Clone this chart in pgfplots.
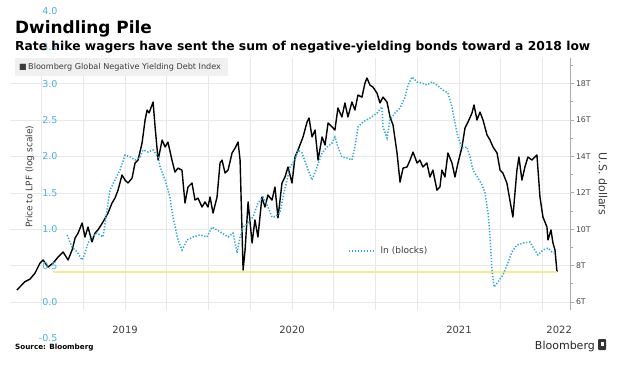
\documentclass[border=0pt]{standalone}
\usepackage{fontspec}
\setmainfont{DejaVu Sans}
\usepackage{pgfplots}
\pgfplotsset{compat=1.18}
\definecolor{cyanline}{RGB}{40,170,215}
\definecolor{cyantick}{RGB}{70,180,220}
\definecolor{yellowline}{RGB}{245,236,140}
\definecolor{gridc}{RGB}{232,232,232}
\definecolor{txt}{RGB}{60,60,60}
\begin{document}
\begin{tikzpicture}[x=1pt,y=1pt]
\path[use as bounding box] (0,0) rectangle (623,365);
% right axis (US dollars) with grid and black index line
\begin{axis}[
  at={(10pt,55pt)}, anchor=south west, scale only axis,
  width=560pt, height=252pt,
  xmin=2018.311, xmax=2021.665, ymin=5.56, ymax=19.41,
  axis y line*=right, axis x line*=bottom,
  x axis line style={draw=none},
  y axis line style={draw=gray!65, line width=0.8pt},
  every outer y axis line/.append style={-},
  every outer x axis line/.append style={-},
  xtick={2019,2020,2021,2021.6}, xticklabels={2019,2020,2021,2022},
  minor xtick={2018.5,2018.75,2019,2019.25,2019.5,2019.75,2020,2020.25,2020.5,2020.75,2021,2021.25,2021.5},
  xminorgrids=true, xmajorgrids=false,
  major x tick style={draw=none}, minor x tick style={draw=none},
  ytick={6,8,10,12,14,16,18}, yticklabels={6T,8T,10T,12T,14T,16T,18T},
  minor ytick={7,9,11,13,15,17,19},
  ymajorgrids=true,
  tick align=outside, major tick length=3.5pt, minor tick length=2.5pt,
  y tick style={draw=gray!65, line width=0.8pt},
  grid style={gridc, line width=0.6pt},
  minor grid style={gridc, line width=0.6pt},
  /pgf/number format/assume math mode=true,
  xticklabel style={font=\fontsize{10}{12}\selectfont, text=txt, yshift=-9pt},
  yticklabel style={font=\fontsize{7.8}{9}\selectfont, text=gray!55!black, xshift=-1pt},
  ylabel={U.S. dollars},
  ylabel style={font=\fontsize{11}{13}\selectfont, text=txt, rotate=180, at={(axis description cs:1.0589,0.5)}, anchor=center},
  clip=false,
]
\addplot[black, line width=1.4pt, line join=round] coordinates {
(2018.352,6.66)(2018.401,7.12)(2018.431,7.26)(2018.461,7.59)(2018.491,8.14)(2018.509,8.31)
(2018.539,7.92)(2018.569,8.14)(2018.599,8.47)(2018.629,8.75)(2018.659,8.31)(2018.683,8.86)
(2018.701,9.52)(2018.719,9.79)(2018.743,10.34)(2018.760,9.57)(2018.778,10.12)(2018.802,9.30)
(2018.820,9.79)(2018.838,9.96)(2018.868,10.40)(2018.898,10.89)(2018.922,11.44)(2018.940,11.71)
(2018.958,12.15)(2018.982,12.98)(2019.000,12.70)(2019.018,12.54)(2019.042,12.81)(2019.060,13.64)
(2019.078,13.80)(2019.102,14.74)(2019.120,16.00)(2019.132,16.55)(2019.144,16.39)(2019.168,16.99)
(2019.180,15.62)(2019.198,13.80)(2019.222,14.90)(2019.240,14.52)(2019.257,14.79)(2019.281,13.80)
(2019.299,13.14)(2019.317,13.36)(2019.341,13.25)(2019.359,11.44)(2019.377,12.32)(2019.401,12.54)
(2019.419,11.60)(2019.437,11.71)(2019.461,11.22)(2019.479,11.50)(2019.497,11.22)(2019.509,11.77)
(2019.527,10.89)(2019.551,11.77)(2019.569,13.64)(2019.581,13.80)(2019.599,13.09)(2019.617,13.25)
(2019.641,14.19)(2019.659,14.46)(2019.677,14.79)(2019.689,13.80)(2019.707,7.76)(2019.719,8.86)
(2019.737,11.50)(2019.761,9.24)(2019.778,10.51)(2019.796,9.57)(2019.820,11.77)(2019.838,11.22)
(2019.856,11.88)(2019.880,11.60)(2019.898,12.32)(2019.916,10.62)(2019.940,12.54)(2019.958,12.87)
(2019.976,13.42)(2020.000,12.54)(2020.018,13.97)(2020.036,14.35)(2020.066,15.07)(2020.090,15.89)
(2020.102,16.11)(2020.120,15.07)(2020.138,15.45)(2020.156,13.80)(2020.180,15.07)(2020.198,14.63)
(2020.216,15.84)(2020.240,15.62)(2020.257,15.45)(2020.275,16.66)(2020.299,16.17)(2020.317,16.94)
(2020.335,16.17)(2020.359,16.99)(2020.377,16.55)(2020.395,17.37)(2020.419,17.26)(2020.437,18.03)
(2020.449,18.31)(2020.467,17.92)(2020.485,17.81)(2020.509,17.48)(2020.527,16.94)(2020.545,17.26)
(2020.569,16.99)(2020.587,16.17)(2020.605,15.73)(2020.629,14.19)(2020.647,12.59)(2020.665,13.36)
(2020.689,13.42)(2020.707,13.80)(2020.725,14.24)(2020.749,13.64)(2020.766,13.80)(2020.784,13.42)
(2020.808,13.64)(2020.826,12.87)(2020.844,13.25)(2020.868,12.15)(2020.886,12.32)(2020.898,13.25)
(2020.916,12.87)(2020.934,14.19)(2020.958,13.64)(2020.976,12.87)(2020.994,13.64)(2021.018,14.52)
(2021.036,15.56)(2021.054,15.89)(2021.078,16.39)(2021.090,16.83)(2021.108,16.00)(2021.126,16.44)
(2021.144,16.00)(2021.168,15.18)(2021.186,14.90)(2021.204,14.52)(2021.228,14.19)(2021.246,13.25)
(2021.263,13.09)(2021.287,12.54)(2021.305,11.60)(2021.323,10.67)(2021.347,13.25)(2021.359,13.97)
(2021.377,12.70)(2021.395,13.42)(2021.413,13.97)(2021.437,13.80)(2021.455,13.97)(2021.467,14.08)
(2021.485,11.77)(2021.503,10.67)(2021.527,10.12)(2021.533,9.41)(2021.551,9.96)(2021.563,9.24)
(2021.575,8.86)(2021.587,7.65)
};
\end{axis}
% left axis (price to LPF) with cyan series and yellow line
\begin{axis}[
  at={(10pt,26.6pt)}, anchor=south west, scale only axis,
  width=560pt, height=327.6pt,
  xmin=2018.311, xmax=2021.665, ymin=-0.5, ymax=4.0,
  axis line style={draw=none}, tick style={draw=none},
  xtick=\empty,
  ytick={-0.5,0,0.5,1,1.5,2,2.5,3,3.5,4},
  /pgf/number format/assume math mode=true,
  yticklabel style={font=\fontsize{9.5}{11}\selectfont, text=cyantick, xshift=51pt,
    /pgf/number format/fixed, /pgf/number format/fixed zerofill, /pgf/number format/precision=1},
  ylabel={Price to LPF (log scale)},
  ylabel style={font=\fontsize{9}{11}\selectfont, text=txt, at={(axis description cs:0.0357,0.493)}, anchor=center},
  legend style={draw=none, fill=none, at={(axis description cs:0.6036,0.2668)}, anchor=west,
    font=\fontsize{9}{11}\selectfont, text=txt, inner sep=0pt},
  legend image code/.code={\draw[#1] (0pt,0pt) -- (25pt,0pt); \path (29pt,0pt);},
  clip=false,
]
\addplot[yellowline, line width=1.6pt, forget plot] coordinates {(2018.569,0.412)(2021.587,0.412)};
\addplot[cyanline, line width=1.5pt, dash pattern=on 1.3pt off 1.7pt] coordinates {
(2018.653,0.920)(2018.683,0.755)(2018.713,0.687)(2018.743,0.577)(2018.760,0.673)(2018.778,0.810)
(2018.802,0.893)(2018.832,0.948)(2018.850,0.920)(2018.868,0.893)(2018.892,1.264)(2018.910,1.538)
(2018.940,1.676)(2018.970,1.813)(2019.000,2.019)(2019.030,1.992)(2019.060,1.951)(2019.090,1.992)
(2019.108,2.088)(2019.138,2.060)(2019.168,2.088)(2019.198,1.992)(2019.210,1.854)(2019.240,1.676)
(2019.269,1.442)(2019.287,1.168)(2019.317,0.852)(2019.341,0.714)(2019.371,0.852)(2019.407,0.893)
(2019.449,0.920)(2019.491,0.893)(2019.521,1.030)(2019.551,0.989)(2019.581,0.948)(2019.617,0.893)
(2019.647,0.948)(2019.671,0.673)(2019.689,0.893)(2019.707,1.030)(2019.737,1.085)(2019.767,1.168)
(2019.796,1.360)(2019.826,1.442)(2019.856,1.305)(2019.880,1.168)(2019.898,1.168)(2019.928,1.223)
(2019.946,1.442)(2019.970,1.676)(2019.988,1.854)(2020.018,1.951)(2020.036,2.088)(2020.060,2.047)
(2020.090,1.854)(2020.120,1.676)(2020.150,1.854)(2020.180,2.047)(2020.210,2.129)(2020.240,2.184)
(2020.257,2.266)(2020.275,2.129)(2020.299,1.992)(2020.329,1.978)(2020.359,1.951)(2020.377,2.129)
(2020.395,2.404)(2020.425,2.473)(2020.467,2.528)(2020.509,2.596)(2020.539,2.679)(2020.545,2.404)
(2020.569,2.253)(2020.587,2.500)(2020.617,2.596)(2020.647,2.665)(2020.677,2.816)(2020.695,2.981)
(2020.719,3.091)(2020.749,3.022)(2020.778,3.008)(2020.808,2.981)(2020.838,3.022)(2020.868,2.981)
(2020.904,2.912)(2020.934,2.871)(2020.958,2.679)(2020.976,2.459)(2020.994,2.266)(2021.018,2.115)
(2021.048,2.129)(2021.066,1.992)(2021.084,1.813)(2021.114,1.703)(2021.138,1.607)(2021.156,1.497)
(2021.174,1.223)(2021.186,0.893)(2021.198,0.440)(2021.210,0.206)(2021.234,0.275)(2021.263,0.371)
(2021.293,0.536)(2021.317,0.687)(2021.347,0.783)(2021.383,0.810)(2021.425,0.824)(2021.443,0.755)
(2021.473,0.646)(2021.503,0.714)(2021.533,0.742)(2021.557,0.687)(2021.575,0.673)
};
\addlegendentry{ln (blocks)}
\end{axis}
% titles
\node[anchor=base west, inner sep=0pt, text=black] at (15,331) {\fontsize{16.9}{20}\selectfont\bfseries Dwindling Pile};
\node[anchor=base west, inner sep=0pt, text=black] at (15,314.3) {\fontsize{12.3}{14}\selectfont\bfseries Rate hike wagers have sent the sum of negative-yielding bonds toward a 2018 low};
% legend box
\fill[gray!12] (15,289) rectangle (228,307);
\node[anchor=west, inner sep=0pt, text=txt] at (19,298) {\fontsize{8.1}{10}\selectfont ■\,Bloomberg Global Negative Yielding Debt Index};
% footer
\node[anchor=base west, inner sep=0pt, text=black] at (15,16) {\fontsize{7.2}{9}\selectfont\bfseries Source: Bloomberg};
\node[anchor=base east, inner sep=0pt, text=black!85] at (595,16) {\fontsize{11}{13}\selectfont Bloomberg};
\fill[black!80, rounded corners=1pt] (598,15) rectangle (606,26);
\fill[white] (600.5,19) rectangle (603.5,23);
\end{tikzpicture}
\end{document}
